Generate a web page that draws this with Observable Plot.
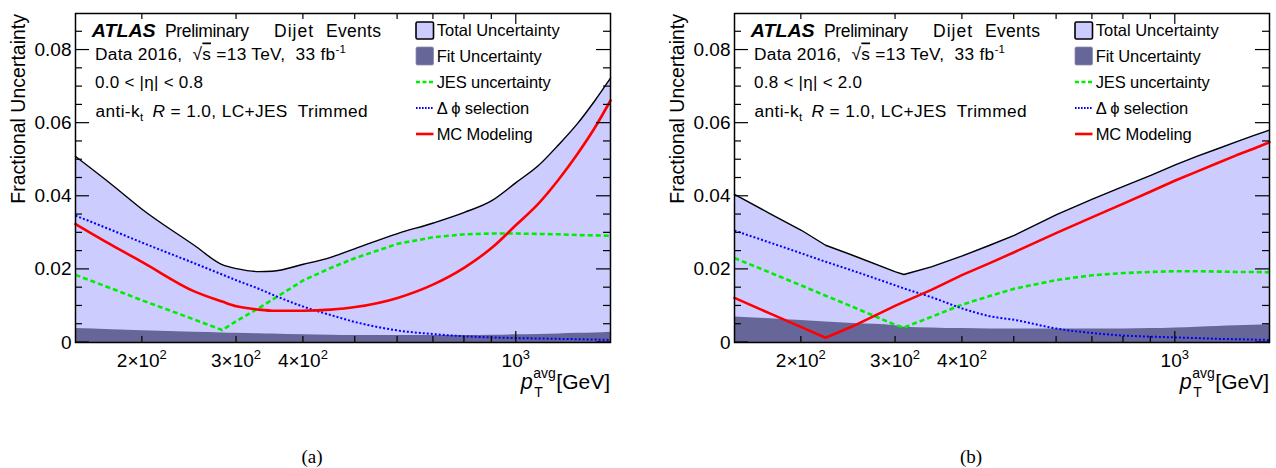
<!DOCTYPE html>
<html><head><meta charset="utf-8">
<script src="https://cdn.jsdelivr.net/npm/d3@7"></script>
<script src="https://cdn.jsdelivr.net/npm/@observablehq/plot@0.6"></script>
<style>
html,body{margin:0;padding:0;background:#fff;}
#chart{position:relative;width:1276px;height:468px;overflow:hidden;background:#fff;}
#chart svg{position:absolute;top:0;}
</style></head><body><div id="chart"></div>
<script>
// ---------- data: panel (a) 0.0 < |eta| < 0.8 ----------
const ptA    = [150, 175, 200, 250, 282, 300, 330, 350, 400, 450, 500, 600, 700, 800, 900, 1000, 1100, 1200, 1300, 1400, 1500];
const totalA = [0.0509, 0.0433, 0.0364, 0.0266, 0.0213, 0.0202, 0.0194, 0.0195, 0.0214, 0.0233, 0.0257, 0.0298, 0.0327, 0.0356, 0.0388, 0.0438, 0.0484, 0.0541, 0.0598, 0.0660, 0.0723];
const fitA   = [0.0038, 0.0035, 0.0032, 0.0028, 0.0026, 0.0025, 0.0024, 0.0023, 0.0021, 0.0020, 0.0019, 0.0019, 0.0019, 0.0019, 0.0020, 0.0021, 0.0022, 0.0023, 0.0025, 0.0026, 0.0028];
const jesA   = [0.0185, 0.0148, 0.0115, 0.0063, 0.0034, 0.0059, 0.0094, 0.0117, 0.0170, 0.0204, 0.0231, 0.0270, 0.0288, 0.0296, 0.0298, 0.0298, 0.0297, 0.0296, 0.0294, 0.0293, 0.0292];
const dphiA  = [0.0347, 0.0308, 0.0273, 0.0217, 0.0186, 0.0170, 0.0147, 0.0131, 0.0098, 0.0075, 0.0056, 0.0033, 0.0023, 0.0017, 0.0014, 0.0012, 0.0011, 0.0010, 0.0009, 0.0008, 0.0007];
const mcA    = [0.0324, 0.0267, 0.0220, 0.0140, 0.0112, 0.0099, 0.0090, 0.0087, 0.0087, 0.0090, 0.0097, 0.0122, 0.0159, 0.0205, 0.0259, 0.0322, 0.0380, 0.0446, 0.0515, 0.0586, 0.0662];

// ---------- data: panel (b) 0.8 < |eta| < 2.0 ----------
const ptB    = [150, 175, 200, 222, 250, 300, 311, 350, 400, 450, 500, 600, 700, 800, 900, 1000, 1100, 1200, 1300, 1400, 1500];
const totalB = [0.0405, 0.0352, 0.0307, 0.0266, 0.0238, 0.0193, 0.0186, 0.0207, 0.0237, 0.0266, 0.0293, 0.0350, 0.0392, 0.0427, 0.0457, 0.0486, 0.0510, 0.0530, 0.0549, 0.0566, 0.0581];
const fitB   = [0.0070, 0.0065, 0.0060, 0.0056, 0.0052, 0.0046, 0.0042, 0.0040, 0.0038, 0.0037, 0.0037, 0.0037, 0.0037, 0.0037, 0.0038, 0.0040, 0.0042, 0.0044, 0.0046, 0.0047, 0.0049];
const jesB   = [0.0231, 0.0191, 0.0156, 0.0128, 0.0097, 0.0048, 0.0041, 0.0070, 0.0104, 0.0127, 0.0147, 0.0171, 0.0184, 0.0190, 0.0193, 0.0195, 0.0195, 0.0194, 0.0193, 0.0193, 0.0192];
const dphiB  = [0.0306, 0.0273, 0.0244, 0.0221, 0.0196, 0.0156, 0.0148, 0.0124, 0.0093, 0.0072, 0.0062, 0.0038, 0.0026, 0.0019, 0.0016, 0.0014, 0.0012, 0.0010, 0.0009, 0.0008, 0.0007];
const mcB    = [0.0122, 0.0079, 0.0042, 0.0013, 0.0045, 0.0101, 0.0111, 0.0144, 0.0185, 0.0217, 0.0247, 0.0300, 0.0343, 0.0380, 0.0413, 0.0443, 0.0468, 0.0491, 0.0512, 0.0530, 0.0548];

// ---------- axes / labels ----------
const yMajor = [0, 0.02, 0.04, 0.06, 0.08];
const yMinor = [0.005, 0.01, 0.015, 0.025, 0.03, 0.035, 0.045, 0.05, 0.055, 0.065, 0.07, 0.075, 0.085];
const xMajor = [1000];
const xMinor = [200, 300, 400, 500, 600, 700, 800, 900];
const xLabelValues = [200, 300, 400, 1000];
const xLabelMantissa = ["2\u00d710", "3\u00d710", "4\u00d710", "10"];
const xLabelExponent = ["2", "2", "2", "3"];
const legendLabels = ["Total Uncertainty", "Fit Uncertainty", "JES uncertainty", "\u0394 \u03d5 selection", "MC Modeling"];
const headerWords = ["Preliminary", "Dijet", "Events"];
const yTitle = "Fractional Uncertainty";

const FONT = '"Liberation Sans", Arial, Helvetica, sans-serif';
const W = 638, H = 468, MT = 13, MB = 126;
const C_TOTAL = "#ccccff", C_FIT = "#666699", C_JES = "#00ee00", C_DPHI = "#0000ff", C_MC = "#ff0000";

function panel(cfg) {
  const {pt, total, fit, jes, dphi, mc, marginLeft, marginRight, left, eta, caption, captionX, totalCurve, mcCurve} = cfg;
  const rows = pt.map((x, i) => ({pt: x, total: total[i], fit: fit[i], jes: jes[i], dphi: dphi[i], mc: mc[i]}));
  const pw = W - marginLeft - marginRight;
  const plot = Plot.plot({
    width: W, height: H, marginLeft, marginRight, marginTop: MT, marginBottom: MB,
    style: {fontFamily: FONT, fontSize: "19px", background: "transparent", overflow: "visible", color: "black"},
    x: {type: "log", domain: [150, 1500], axis: null},
    y: {domain: [0, 0.09], axis: null},
    marks: [
      Plot.areaY(rows, {x: "pt", y: "total", fill: C_TOTAL, curve: totalCurve}),
      Plot.areaY(rows, {x: "pt", y: "fit", fill: C_FIT, curve: "monotone-x"}),
      Plot.lineY(rows, {x: "pt", y: "total", stroke: "black", strokeWidth: 1.4, curve: totalCurve}),
      Plot.lineY(rows, {x: "pt", y: "jes", stroke: C_JES, strokeWidth: 2.6, strokeDasharray: "5,3", strokeLinecap: "butt", curve: "linear"}),
      Plot.lineY(rows, {x: "pt", y: "dphi", stroke: C_DPHI, strokeWidth: 2, strokeDasharray: "2,2", strokeLinecap: "butt", curve: "monotone-x"}),
      Plot.lineY(rows, {x: "pt", y: "mc", stroke: C_MC, strokeWidth: 2.6, curve: mcCurve}),
      Plot.frame({stroke: "black", strokeWidth: 1.5}),
      Plot.axisY(yMajor, {tickSize: 0, tickPadding: 4, fontSize: 19, label: null,
        tickFormat: v => v === 0 ? "0" : v.toFixed(2)})
    ]
  });
  plot.style.left = left + "px";
  document.getElementById("chart").appendChild(plot);

  const svg = d3.select(plot);
  const xs = plot.scale("x"), ys = plot.scale("y");
  const g = svg.append("g").attr("font-family", FONT).attr("fill", "black")
    .attr("text-anchor", "start").style("white-space", "pre");
  const mL = marginLeft, xr = mL + pw, top = MT, bottom = H - MB;

  // ticks (inside the frame, on all four sides), placed through Plot's scales
  const tk = g.append("g").attr("stroke", "black").attr("stroke-width", 1.2).attr("fill", "none");
  const seg = (x1, y1, x2, y2) => tk.append("line").attr("x1", x1).attr("y1", y1).attr("x2", x2).attr("y2", y2);
  xMinor.forEach(v => { const x = xs.apply(v); seg(x, bottom, x, bottom - 6); seg(x, top, x, top + 6); });
  xMajor.forEach(v => { const x = xs.apply(v); seg(x, bottom, x, bottom - 11); seg(x, top, x, top + 11); });
  yMinor.forEach(v => { const y = ys.apply(v); seg(mL, y, mL + 7, y); seg(xr, y, xr - 7, y); });
  yMajor.forEach(v => { const y = ys.apply(v); seg(mL, y, mL + 14, y); seg(xr, y, xr - 14, y); });

  // x tick labels
  xLabelValues.forEach((v, i) => {
    const t = g.append("text").attr("x", xs.apply(v)).attr("y", 366.5)
      .attr("text-anchor", "middle").attr("font-size", 19);
    t.append("tspan").text(xLabelMantissa[i]);
    t.append("tspan").attr("dy", -8).attr("font-size", 13).text(xLabelExponent[i]);
  });

  // y title
  g.append("text").attr("transform", `translate(${mL - 50},14) rotate(-90)`)
    .attr("text-anchor", "end").attr("font-size", 19.5).text(yTitle);

  // x title
  const gev = g.append("text").attr("x", xr).attr("y", 389).attr("text-anchor", "end")
    .attr("font-size", 21).text("[GeV]");
  const gw = gev.node().getComputedTextLength();
  const avg = g.append("text").attr("x", xr - gw - 0.5).attr("y", 378).attr("text-anchor", "end")
    .attr("font-size", 14).text("avg");
  const aw = avg.node().getComputedTextLength();
  g.append("text").attr("x", xr - gw - aw - 1).attr("y", 389).attr("text-anchor", "end")
    .attr("font-size", 21.5).attr("font-style", "italic").text("p");
  g.append("text").attr("x", xr - gw - aw + 0.5).attr("y", 397).attr("text-anchor", "start")
    .attr("font-size", 14).text("T");

  // ATLAS label block
  g.append("text").attr("x", mL + 16.7).attr("y", 36.5).attr("font-size", 18)
    .attr("font-weight", "bold").attr("font-style", "italic")
    .attr("textLength", 64).attr("lengthAdjust", "spacingAndGlyphs").text("ATLAS");
  const wordX = [90, 199, 251], wordLen = [84, 39, 55];
  headerWords.forEach((w, i) => {
    g.append("text").attr("x", mL + wordX[i]).attr("y", 36.5).attr("font-size", 17.5)
      .attr("textLength", wordLen[i]).text(w);
  });
  const t2 = g.append("text").attr("x", mL + 20).attr("y", 59.5).attr("font-size", 17.3)
    .attr("textLength", 251);
  t2.append("tspan").text("Data 2016,  \u221a");
  t2.append("tspan").style("text-decoration", "overline").text("s");
  t2.append("tspan").text(" =13 TeV,  33 fb");
  t2.append("tspan").attr("dy", -7).attr("font-size", 11.5).text("-1");
  g.append("text").attr("x", mL + 20).attr("y", 87.5).attr("font-size", 17)
    .attr("textLength", 108).text(eta);
  const t4 = g.append("text").attr("x", mL + 20.5).attr("y", 116.5).attr("font-size", 17.3)
    .attr("textLength", 272);
  t4.append("tspan").text("anti-k");
  t4.append("tspan").attr("dy", 4).attr("font-size", 11.5).text("t");
  t4.append("tspan").attr("dy", -4).attr("dx", 9).attr("font-style", "italic").text("R");
  t4.append("tspan").text(" = 1.0, LC+JES  Trimmed");

  // legend
  const lx = mL + 341, lw = 17.5, tx = mL + 361.7;
  g.append("rect").attr("x", lx).attr("y", 22).attr("width", lw).attr("height", 17)
    .attr("rx", 1.5).attr("fill", C_TOTAL).attr("stroke", "black").attr("stroke-width", 1.6);
  g.append("rect").attr("x", lx).attr("y", 47).attr("width", lw).attr("height", 18)
    .attr("rx", 1.5).attr("fill", C_FIT).attr("stroke", "#8a8ab0").attr("stroke-width", 0.8);
  g.append("line").attr("x1", lx).attr("x2", lx + lw).attr("y1", 82).attr("y2", 82)
    .attr("stroke", C_JES).attr("stroke-width", 2.6).attr("stroke-dasharray", "4,2.5");
  g.append("line").attr("x1", lx).attr("x2", lx + lw).attr("y1", 108).attr("y2", 108)
    .attr("stroke", C_DPHI).attr("stroke-width", 2).attr("stroke-dasharray", "1.6,1.4");
  g.append("line").attr("x1", lx).attr("x2", lx + lw).attr("y1", 134).attr("y2", 134)
    .attr("stroke", C_MC).attr("stroke-width", 2.6);
  const bases = [36, 62, 88, 114, 140];
  const legendLengths = [123, 105, 114, 92.5, 96];
  legendLabels.forEach((s, i) => {
    g.append("text").attr("x", tx).attr("y", bases[i]).attr("font-size", 16.5)
      .attr("textLength", legendLengths[i]).text(s);
  });

  // caption
  g.append("text").attr("x", captionX).attr("y", 463).attr("text-anchor", "middle")
    .attr("font-family", '"Liberation Serif", "Times New Roman", serif').attr("font-size", 19).text(caption);
}

panel({pt: ptA, total: totalA, fit: fitA, jes: jesA, dphi: dphiA, mc: mcA,
  marginLeft: 75, marginRight: 28, left: 0, eta: "0.0 < |\u03b7| < 0.8", caption: "(a)", captionX: 312,
  totalCurve: "monotone-x", mcCurve: "monotone-x"});
panel({pt: ptB, total: totalB, fit: fitB, jes: jesB, dphi: dphiB, mc: mcB,
  marginLeft: 96, marginRight: 7, left: 638, eta: "0.8 < |\u03b7| < 2.0", caption: "(b)", captionX: 333,
  totalCurve: "linear", mcCurve: "linear"});
</script></body></html>
